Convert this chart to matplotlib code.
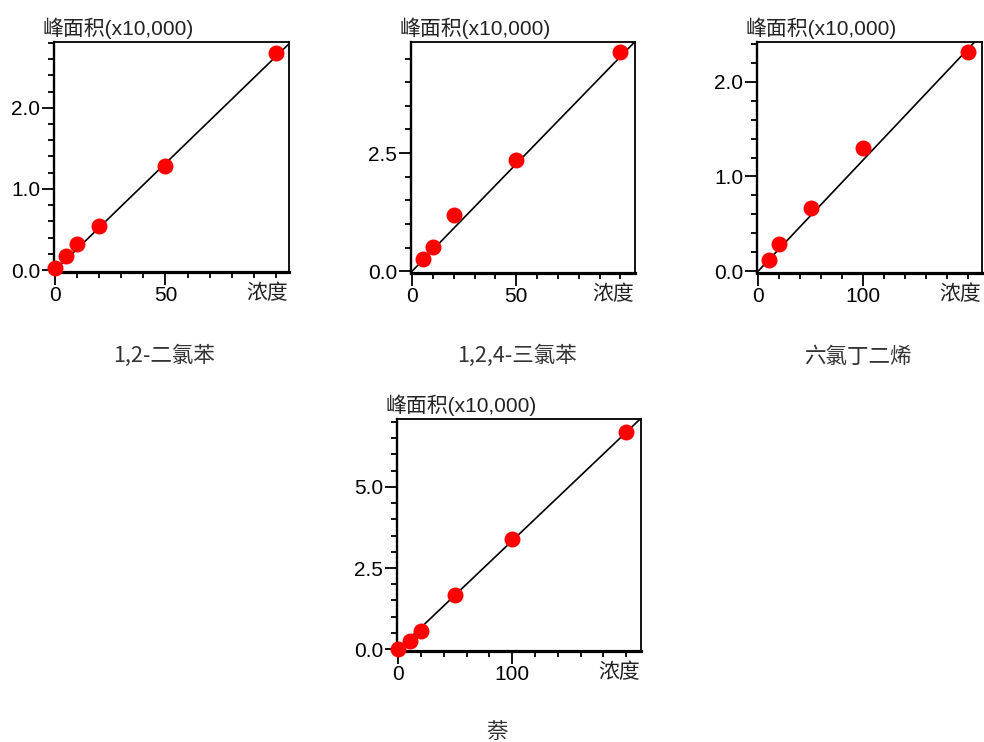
import matplotlib
matplotlib.use("Agg")
import matplotlib.pyplot as plt
import numpy as np
from matplotlib.ticker import FixedLocator, FormatStrFormatter

plt.rcParams["font.family"] = ["Liberation Sans", "Noto Sans CJK SC"]

W, H = 984, 742

# calibration data: concentration vs peak area (x10,000)
names = ["1,2-二氯苯", "1,2,4-三氯苯", "六氯丁二烯", "萘"]

conc_1 = [0, 5, 10, 20, 50, 100]
area_1 = [0.03, 0.18, 0.32, 0.54, 1.28, 2.67]
conc_2 = [5, 10, 20, 50, 100]
area_2 = [0.25, 0.51, 1.18, 2.36, 4.63]
conc_3 = [10, 20, 50, 100, 200]
area_3 = [0.12, 0.29, 0.67, 1.30, 2.31]
conc_4 = [0, 10, 20, 50, 100, 200]
area_4 = [0.0, 0.26, 0.56, 1.66, 3.38, 6.69]

# fitted calibration slopes (area per unit concentration)
slopes = [0.0263, 0.0454, 0.01175, 0.0334]

# axis ranges
x_max = [106, 107, 213, 213]
y_max = [2.81, 4.85, 2.42, 7.09]
x_major = [[0, 50], [0, 50], [0, 100], [0, 100]]
x_minor_step = [10, 10, 20, 20]
y_major = [[0.0, 1.0, 2.0], [0.0, 2.5], [0.0, 1.0, 2.0], [0.0, 2.5, 5.0]]
y_minor_step = [0.2, 0.5, 0.2, 0.5]

# panel boxes in pixels: left, right, top, bottom
boxes = [(54, 289, 42, 272), (411, 635, 42, 273),
         (757, 982, 42, 273), (397, 641, 419, 651)]
# title centres in pixels
title_pos = [(164, 356), (517, 356), (858, 357), (497, 732)]

series = [(conc_1, area_1), (conc_2, area_2), (conc_3, area_3), (conc_4, area_4)]

fig = plt.figure(figsize=(W / 100, H / 100), dpi=100)

for i, (cx, cy) in enumerate(series):
    l, r, t, b = boxes[i]
    ax = fig.add_axes([l / W, 1 - b / H, (r - l) / W, (b - t) / H])

    xs = np.array([0, x_max[i]])
    ax.plot(xs, slopes[i] * xs, color="black", lw=1.2, zorder=2)
    ax.plot(cx, cy, "o", color="#ff0000", ms=11.5, mec="none",
            zorder=3, clip_on=False)

    ax.set_xlim(-0.005 * x_max[i], x_max[i])
    ax.set_ylim(-0.008 * y_max[i], y_max[i])

    ax.xaxis.set_major_locator(FixedLocator(x_major[i]))
    ax.xaxis.set_minor_locator(FixedLocator(
        [v for v in np.arange(0, x_max[i], x_minor_step[i]) if v not in x_major[i]]))
    ax.yaxis.set_major_locator(FixedLocator(y_major[i]))
    ax.yaxis.set_minor_locator(FixedLocator(
        [v for v in np.arange(0, y_max[i], y_minor_step[i])
         if not any(abs(v - m) < 1e-6 for m in y_major[i])]))
    ax.yaxis.set_major_formatter(FormatStrFormatter("%.1f"))

    ax.tick_params(which="major", length=9, width=1.3, labelsize=15, pad=1)
    ax.tick_params(which="minor", length=4.5, width=1.3)

    for side, sp in ax.spines.items():
        sp.set_linewidth(1.3)
        sp.set_color("black")
    ax.spines["left"].set_linewidth(1.7)
    ax.spines["bottom"].set_linewidth(2.3)

    ax.annotate("峰面积(x10,000)", xy=(0, 1), xycoords="axes fraction",
                xytext=(-8, 2), textcoords="offset points",
                ha="left", va="bottom", fontsize=15, color="#222222")
    ax.annotate("浓度", xy=(1, 0), xycoords="axes fraction",
                xytext=(-1, -8), textcoords="offset points",
                ha="right", va="top", fontsize=15, color="#222222")

    tx, ty = title_pos[i]
    fig.text(tx / W, 1 - ty / H, names[i], ha="center", va="center",
             fontsize=15.5, color="#333333", family=["Noto Sans CJK SC"])

fig.savefig("out.png", dpi=100)
